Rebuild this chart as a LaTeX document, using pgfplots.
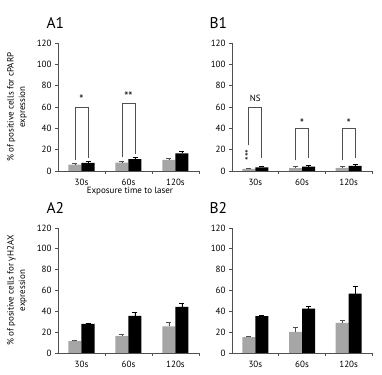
\documentclass[border=0pt]{standalone}
\usepackage{fontspec}
\setmainfont{PT Sans}
\newfontfamily\greekfont{Open Sans}
\usepackage{pgfplots}
\pgfplotsset{compat=1.18}
\definecolor{barGrey}{HTML}{A6A6A6}
\definecolor{axisGrey}{HTML}{505050}

\tikzset{sigstar/.style={font=\fontsize{12}{12}\selectfont}}

\pgfplotsset{
  panel/.style={
    scale only axis, anchor=south west,
    ybar=0pt, bar width=13pt,
    xmin=-0.5, xmax=2.5, ymin=0, ymax=120,
    axis x line*=bottom, axis y line*=left,
    axis line style={axisGrey, line width=0.8pt},
    xtick={0,1,2}, xticklabels={30s,60s,120s},
    major x tick style={draw=none},
    minor xtick={0.5,1.5,2.5},
    minor x tick style={axisGrey, line width=0.8pt},
    ytick={0,20,...,120},
    y tick style={axisGrey, line width=0.8pt},
    tick align=outside, major tick length=3pt, minor tick length=3pt,
    tick label style={font=\fontsize{9}{10}\selectfont},
    xticklabel style={yshift=-1.5pt},
    /pgf/number format/assume math mode=true,
    ylabel style={at={(axis description cs:-0.29,0.5)}, anchor=center,
      align=center, font=\fontsize{9}{11.5}\selectfont},
    clip=false,
  },
  greybar/.style={fill=barGrey, draw=none,
    error bars/.cd, y dir=plus, y explicit,
    error bar style={axisGrey, line width=0.8pt},
    error mark options={rotate=90, axisGrey, mark size=2.5pt, line width=0.8pt}},
  blackbar/.style={fill=black, draw=none,
    error bars/.cd, y dir=plus, y explicit,
    error bar style={black, line width=0.8pt},
    error mark options={rotate=90, black, mark size=2.5pt, line width=0.8pt}},
}

\begin{document}
\begin{tikzpicture}
\path[use as bounding box] (0,0) rectangle (382pt,374pt);

% A1
\begin{axis}[panel, at={(58pt,203pt)}, width=141pt, height=128pt,
  ylabel={\% of positive cells for cPARP\\expression},
  xlabel={Exposure time to laser},
  xlabel style={at={(axis description cs:0.51,-0.16)}, anchor=center, font=\fontsize{9}{10}\selectfont}]
\addplot[greybar] coordinates {(0,6) +- (0,0.7) (1,7.8) +- (0,1.2) (2,10.4) +- (0,1.3)};
\addplot[blackbar] coordinates {(0,7.6) +- (0,1.7) (1,11.1) +- (0,1.6) (2,16.5) +- (0,2.2)};
\draw[axisGrey, line width=0.8pt] ([xshift=-6.5pt]axis cs:0,10) -- ([xshift=-6.5pt]axis cs:0,60)
  -- ([xshift=6.5pt]axis cs:0,60) -- ([xshift=6.5pt]axis cs:0,12);
\draw[axisGrey, line width=0.8pt] ([xshift=-6.5pt]axis cs:1,13) -- ([xshift=-6.5pt]axis cs:1,63)
  -- ([xshift=6.5pt]axis cs:1,63) -- ([xshift=6.5pt]axis cs:1,16);
\node[sigstar] at (axis cs:0,67) {*};
\node[sigstar] at (axis cs:1,70) {**};
\end{axis}

% B1
\begin{axis}[panel, at={(232pt,203pt)}, width=140pt, height=128pt]
\addplot[greybar] coordinates {(0,2) +- (0,0.5) (1,2.8) +- (0,1.2) (2,3) +- (0,1.5)};
\addplot[blackbar] coordinates {(0,3.5) +- (0,0.9) (1,4.2) +- (0,1.4) (2,4.8) +- (0,1.2)};
\draw[axisGrey, line width=0.8pt] ([xshift=-6.5pt]axis cs:0,24) -- ([xshift=-6.5pt]axis cs:0,60)
  -- ([xshift=6.5pt]axis cs:0,60) -- ([xshift=6.5pt]axis cs:0,12);
\draw[axisGrey, line width=0.8pt] ([xshift=-6.5pt]axis cs:1,10) -- ([xshift=-6.5pt]axis cs:1,40)
  -- ([xshift=6.5pt]axis cs:1,40) -- ([xshift=6.5pt]axis cs:1,12);
\draw[axisGrey, line width=0.8pt] ([xshift=-6.5pt]axis cs:2,10) -- ([xshift=-6.5pt]axis cs:2,40)
  -- ([xshift=6.5pt]axis cs:2,40) -- ([xshift=6.5pt]axis cs:2,12);
\node[font=\fontsize{9}{10}\selectfont] at (axis cs:0,68) {NS};
\node[font=\fontsize{10}{10}\selectfont, rotate=90] at ([xshift=-6.5pt]axis cs:0,15) {***};
\node[sigstar] at (axis cs:1,45) {*};
\node[sigstar] at (axis cs:2,45) {*};
\end{axis}

% A2
\begin{axis}[panel, at={(58pt,21pt)}, width=141pt, height=125pt,
  ylabel={\% of positive cells for {\greekfont γ}H2AX\\expression}]
\addplot[greybar] coordinates {(0,11.4) +- (0,0.9) (1,16.2) +- (0,1.3) (2,25.6) +- (0,3.5)};
\addplot[blackbar] coordinates {(0,27.9) +- (0,0.9) (1,35.6) +- (0,3.2) (2,44.2) +- (0,3.8)};
\end{axis}

% B2
\begin{axis}[panel, at={(232pt,21pt)}, width=140pt, height=125pt]
\addplot[greybar] coordinates {(0,15.2) +- (0,1.2) (1,20.2) +- (0,4.8) (2,29) +- (0,2.6)};
\addplot[blackbar] coordinates {(0,35.4) +- (0,0.7) (1,42.7) +- (0,2.2) (2,57) +- (0,7.3)};
\end{axis}

\node[anchor=base west, font=\fontsize{15.5}{18}\selectfont] at (43pt,345pt) {A1};
\node[anchor=base west, font=\fontsize{15.5}{18}\selectfont] at (206pt,345pt) {B1};
\node[anchor=base west, font=\fontsize{15.5}{18}\selectfont] at (43pt,160pt) {A2};
\node[anchor=base west, font=\fontsize{15.5}{18}\selectfont] at (206pt,160pt) {B2};
\end{tikzpicture}
\end{document}
